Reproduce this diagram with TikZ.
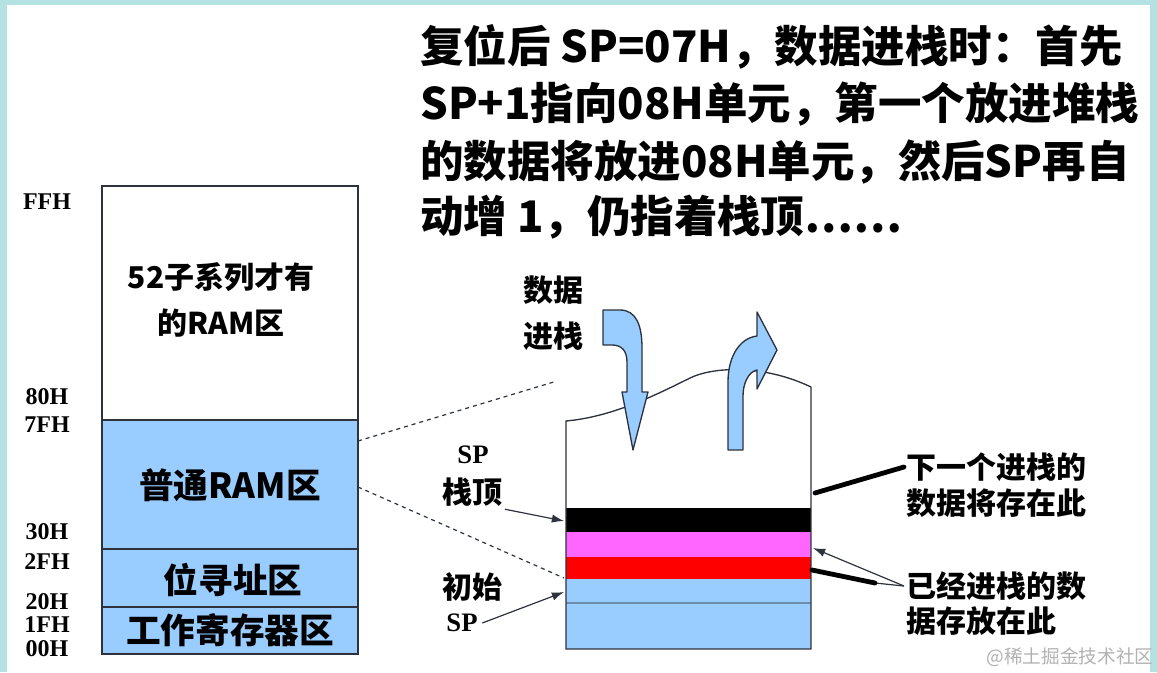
\documentclass[tikz,border=0pt]{standalone}
\usepackage{fontspec}
\setmainfont{Liberation Serif}
\newfontfamily\cjk{Noto Sans CJK SC}
\usetikzlibrary{arrows.meta}

\definecolor{framebg}{RGB}{180,226,226}
\definecolor{ramblue}{RGB}{153,204,255}
\definecolor{pushpink}{RGB}{255,102,255}
\definecolor{pushred}{RGB}{255,0,0}
\definecolor{edgegray}{RGB}{45,50,60}

\begin{document}
\begin{tikzpicture}[
      x=0.75pt, y=-0.75pt,
      >=Latex,
      box/.style={draw=edgegray, line width=1.1pt},
      hexlbl/.style={font=\fontsize{18}{18}\selectfont\bfseries, inner sep=0pt},
      zone/.style={font=\cjk\bfseries\fontsize{26}{26}\selectfont},
      small/.style={font=\cjk\bfseries\fontsize{22.5}{35}\selectfont, align=center},
      note/.style={font=\cjk\bfseries\fontsize{22.5}{22.5}\selectfont, inner sep=2pt},
      splbl/.style={font=\fontsize{20}{20}\selectfont\bfseries},
      topline/.style={font=\cjk\bfseries\fontsize{32.6}{32.6}\selectfont, anchor=base west, inner sep=0pt},
      bentarrow/.style={fill=ramblue, draw=edgegray, line width=1pt, line join=round},
      pointer/.style={draw=edgegray, line width=0.9pt, -{Latex[length=3.2mm,width=2.2mm]}},
      fatline/.style={line width=3.6pt, line cap=round},
      thinline/.style={draw=edgegray, line width=0.9pt},
      guide/.style={dashed, draw=edgegray, line width=0.9pt}
    ]

    \path[use as bounding box] (0,0) rectangle (1157,672);
    \fill[framebg] (0,0) rectangle (1157,672);
    \fill[white] (7,5) rectangle (1150,672);

    % Explanation text
    \node[topline] (line1) at (420,62) {复位后 SP=07H，数据进栈时：首先};
    \node[topline] (line2) at (420,119) {SP+1指向08H单元，第一个放进堆栈};
    \node[topline] (line3) at (420,177) {的数据将放进08H单元，然后SP再自};
    \node[topline] (line4) at (420,232) {动增 1，仍指着栈顶……};

    % RAM map
    \draw[box, fill=white]   (102,186) rectangle (358,420);
    \draw[box, fill=ramblue] (102,420) rectangle (358,549);
    \draw[box, fill=ramblue] (102,549) rectangle (358,607);
    \draw[box, fill=ramblue] (102,607) rectangle (358,654);

    \node[small] (upper) at (221,300) {52子系列才有\\的RAM区};
    \node[zone] (common) at (230,485) {普通RAM区};
    \node[zone] (bitarea) at (233,580) {位寻址区};
    \node[zone] (workreg) at (230,630) {工作寄存器区};

    \node[hexlbl] (aFF) at (47,202) {FFH};
    \node[hexlbl] (a80) at (47,397) {80H};
    \node[hexlbl] (a7F) at (47,425) {7FH};
    \node[hexlbl] (a30) at (47,532) {30H};
    \node[hexlbl] (a2F) at (47,562) {2FH};
    \node[hexlbl] (a20) at (47,602) {20H};
    \node[hexlbl] (a1F) at (47,625) {1FH};
    \node[hexlbl] (a00) at (47,649) {00H};

    % Stack close-up
    \fill[black]    (566,508) rectangle (811,532);
    \fill[pushpink] (566,532) rectangle (811,557);
    \fill[pushred]  (566,557) rectangle (811,579);
    \fill[ramblue]  (566,579) rectangle (811,649);
    \draw[draw=ramblue!60!edgegray, line width=0.8pt] (566,603) -- (811,603);
    \draw[box, line width=1pt] (566,649) -- (566,421)
      .. controls (610,417) and (650,398) .. (690,378)
      .. controls (715,366) and (765,365) .. (811,387)
      -- (811,649) -- cycle;

    % push arrow
    \filldraw[bentarrow] (603,310) -- (620,310)
      .. controls (636,310) and (642,325) .. (642,348) -- (642,392)
      -- (648,392) -- (633,450) -- (622,392) -- (627,392) -- (627,362)
      .. controls (627,350) and (621,345) .. (612,345) -- (603,345) -- cycle;
    % pop arrow
    \filldraw[bentarrow] (728,450) -- (728,382)
      .. controls (728,356) and (740,338) .. (757,336) -- (757,312)
      -- (777,350) -- (757,389) -- (757,370)
      .. controls (748,372) and (743,384) .. (743,396) -- (743,450) -- cycle;

    \node[small] (push) at (553,313) {数据\\进栈};

    % Left side labels
    \node[splbl] (top1) at (473,455) {SP};
    \node[note]  (top2) at (472,492) {栈顶};
    \node[note]  (init1) at (472,587) {初始};
    \node[splbl] (init2) at (462,623) {SP};
    \coordinate (sptop) at (564,521);
    \coordinate (spinit) at (564,592);
    \draw[pointer] (top2.south east) -- (sptop);
    \draw[pointer] (init2.east) -- (spinit);

    % Dashed guides
    \coordinate (ram7F) at (358,441);
    \coordinate (ram30) at (358,487);
    \coordinate (stkhi) at (557,381);
    \coordinate (stklo) at (564,578);
    \draw[guide] (ram7F) -- (stkhi);
    \draw[guide] (ram30) -- (stklo);

    % Right side labels
    \node[note, anchor=west] (next1) at (904,467) {下一个进栈的};
    \node[note, anchor=west] (next2) at (904,503) {数据将存在此};
    \node[note, anchor=west] (done1) at (904,586) {已经进栈的数};
    \node[note, anchor=west] (done2) at (904,621) {据存放在此};

    \coordinate (nextpt) at (815,493);
    \coordinate (pinkpt) at (813,548);
    \coordinate (redpt) at (812,570);
    \coordinate (redmid) at (875,583);
    \draw[fatline] (nextpt) -- (next1.west);
    \draw[pointer] (done1.west) -- (pinkpt);
    \draw[thinline] (done1.west) -- (redmid);
    \draw[fatline] (redmid) -- (redpt);

    \node[font=\cjk\fontsize{14}{14}\selectfont, text=black!30] (mark) at (1070,657) {@稀土掘金技术社区};

  \end{tikzpicture}
\end{document}
